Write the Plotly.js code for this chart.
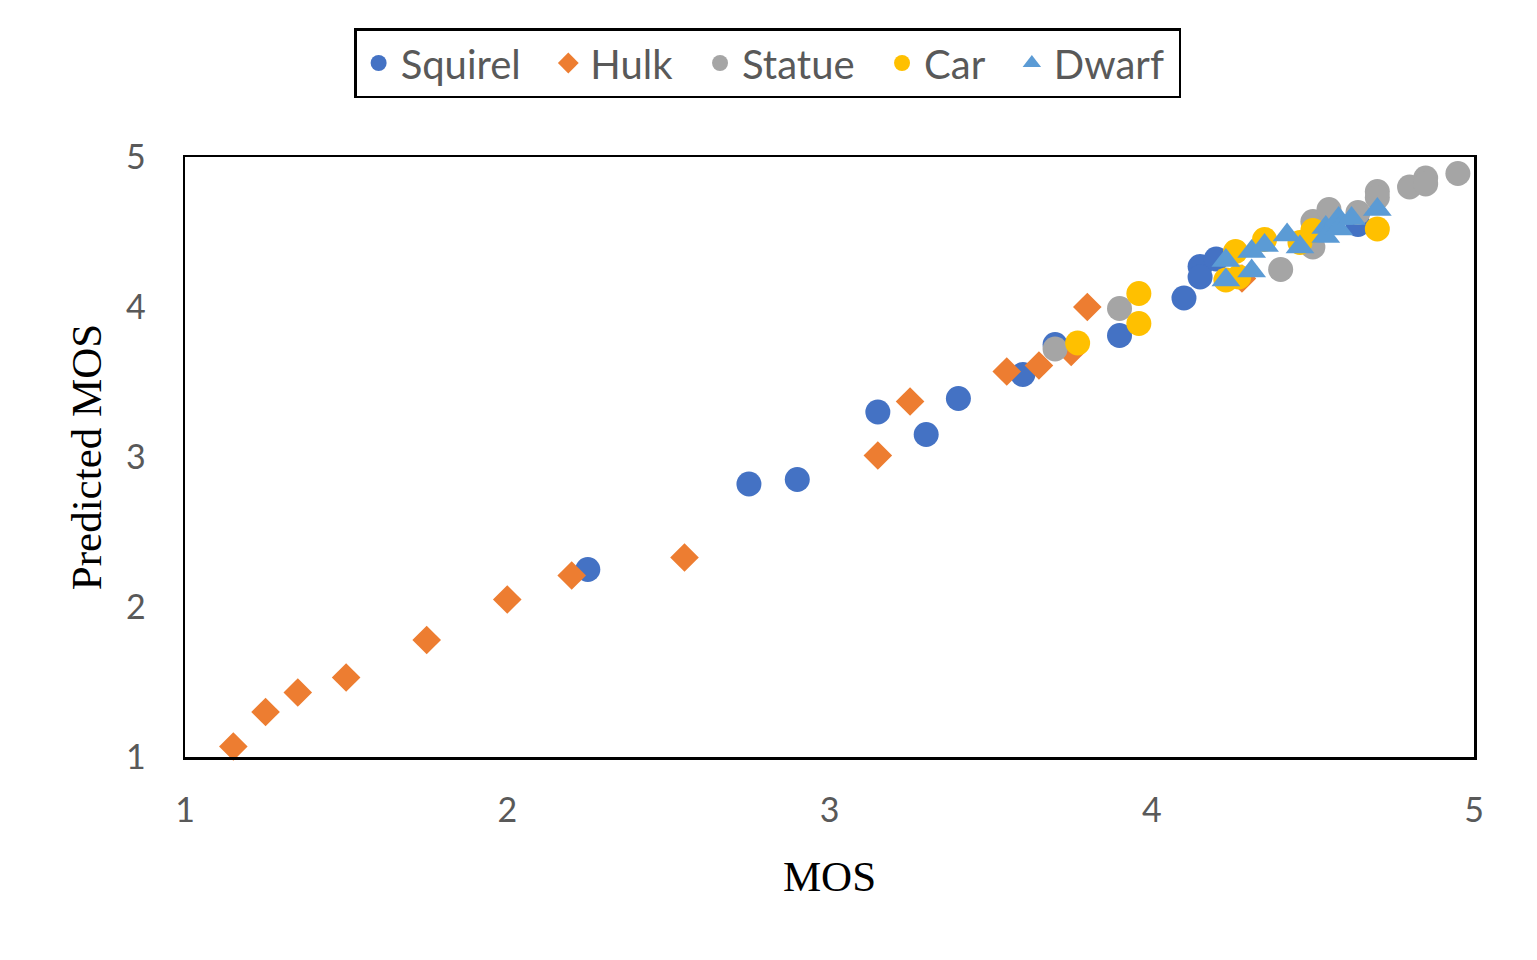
<!DOCTYPE html>
<html><head><meta charset="utf-8">
<script src="https://cdn.plot.ly/plotly-3.0.1.min.js"></script>
<style>html,body{margin:0;padding:0;background:#fff;}#chart{width:1537px;height:960px;}</style>
</head><body><div id="chart"></div>
<script>
const squirelX = [2.25, 2.75, 2.90, 3.15, 3.30, 3.40, 3.60, 3.70, 3.90, 4.10, 4.15, 4.20, 4.15, 4.64];
const squirelY = [2.25, 2.82, 2.85, 3.30, 3.15, 3.39, 3.55, 3.75, 3.81, 4.06, 4.27, 4.32, 4.20, 4.55];

const hulkX = [1.15, 1.25, 1.35, 1.50, 1.75, 2.00, 2.20, 2.55, 3.15, 3.25, 3.55, 3.65, 3.75, 3.80, 4.28];
const hulkY = [1.07, 1.30, 1.43, 1.53, 1.78, 2.05, 2.21, 2.33, 3.01, 3.37, 3.57, 3.61, 3.70, 4.00, 4.19];

const statueX = [3.70, 3.90, 4.40, 4.50, 4.50, 4.55, 4.64, 4.70, 4.70, 4.80, 4.85, 4.85, 4.95];
const statueY = [3.72, 3.99, 4.25, 4.57, 4.40, 4.65, 4.63, 4.77, 4.73, 4.80, 4.86, 4.82, 4.89];

const carX = [3.77, 3.96, 3.96, 4.23, 4.27, 4.26, 4.35, 4.46, 4.50, 4.70];
const carY = [3.76, 4.09, 3.89, 4.18, 4.20, 4.37, 4.45, 4.43, 4.51, 4.52];

const dwarfX = [4.23, 4.23, 4.31, 4.31, 4.35, 4.42, 4.46, 4.54, 4.54, 4.58, 4.58, 4.62, 4.70];
const dwarfY = [4.31, 4.18, 4.37, 4.24, 4.41, 4.48, 4.40, 4.53, 4.47, 4.59, 4.52, 4.59, 4.65];

const seriesNames = ["Squirel", "Hulk", "Statue", "Car", "Dwarf"];
const pad = "\u00a0\u00a0";

function tr(name, x, y, color, symbol, size) {
  return {type: "scatter", mode: "markers", name: name, x: x, y: y,
    marker: {color: color, symbol: symbol, size: size, line: {width: 0}}, cliponaxis: false};
}

const data = [
  tr(seriesNames[0] + pad, squirelX, squirelY, "#4472C4", "circle", 25),
  tr(seriesNames[1] + pad, hulkX, hulkY, "#ED7D31", "diamond", 22),
  tr(seriesNames[2] + pad, statueX, statueY, "#A5A5A5", "circle", 25),
  tr(seriesNames[3] + pad, carX, carY, "#FFC000", "circle", 25),
  tr(seriesNames[4] + "\u00a0", dwarfX, dwarfY, "#5B9BD5", "triangle-up", 25)
];

const axisCommon = {
  showgrid: false, zeroline: false, showline: true, mirror: true,
  linecolor: "#000", linewidth: 2.5, ticks: "",
  tickfont: {family: "Lato, 'Open Sans', sans-serif", size: 34, color: "#595959"},
  dtick: 1, range: [1, 5]
};

const layout = {
  width: 1537, height: 960,
  paper_bgcolor: "#fff", plot_bgcolor: "#fff",
  margin: {l: 185, r: 63, t: 157, b: 203},
  showlegend: true,
  legend: {
    orientation: "h", x: 0.452, xanchor: "center", y: 1.215, yanchor: "top",
    bordercolor: "#000", borderwidth: 2.5, bgcolor: "#fff",
    font: {family: "Lato, 'Open Sans', sans-serif", size: 40, color: "#595959"},
    itemsizing: "trace", tracegroupgap: 0, itemwidth: 34
  },
  xaxis: Object.assign({}, axisCommon, {
    title: {text: "MOS", font: {family: "'Liberation Serif', 'Times New Roman', serif", size: 43, color: "#000"}, standoff: 33},
    ticklabelstandoff: 22
  }),
  yaxis: Object.assign({}, axisCommon, {
    title: {text: "Predicted MOS", font: {family: "'Liberation Serif', 'Times New Roman', serif", size: 43, color: "#000"}, standoff: 11},
    ticklabelstandoff: 30
  })
};

Plotly.newPlot("chart", data, layout, {displayModeBar: false, staticPlot: true});
</script>
</body></html>
